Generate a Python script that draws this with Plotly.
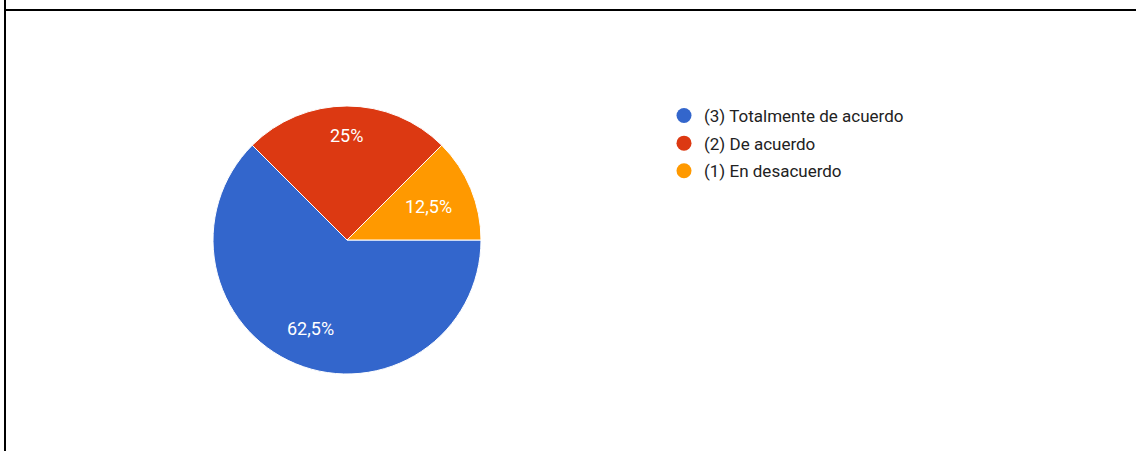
import math
import plotly.graph_objects as go

categories = ["(3) Totalmente de acuerdo", "(2) De acuerdo", "(1) En desacuerdo"]
values = [62.5, 25, 12.5]
colors = ["#3366cc", "#dc3912", "#ff9900"]

W, H = 1137, 451
cx, cy, r = 347, 240, 134
LABEL_FS = 18
FONT = "Roboto, Arial, sans-serif"

fig = go.Figure()
fig.add_trace(go.Pie(
    labels=categories, values=values, sort=False, direction="clockwise",
    rotation=90, marker=dict(colors=colors, line=dict(color="white", width=1)),
    textinfo="none", showlegend=False, hoverinfo="label+percent",
    domain=dict(x=[(cx - r) / W, (cx + r) / W], y=[(H - cy - r) / H, (H - cy + r) / H]),
))

for i, (c, col) in enumerate(zip(categories, colors)):
    fig.add_trace(go.Scatter(
        x=[None], y=[None], mode="markers", name=c, legendgroup=f"g{i}",
        marker=dict(symbol="circle", size=15, color=col), showlegend=True,
    ))

# percentage labels placed like Google Charts: along the slice bisector,
# pushed out until the label box touches ~0.84 of the radius
CHAR_W = {",": 0.196, "%": 0.732}
def text_w(s):
    return sum(CHAR_W.get(ch, 0.562) for ch in s) * LABEL_FS

total = sum(values)
annotations = []
cum = 0.0
for v in values:
    pct = v / total * 100
    txt = (f"{pct:.1f}".rstrip("0").rstrip(".")).replace(".", ",") + "%"
    theta = math.radians(0 - (cum + v / 2) / total * 360)
    cum += v
    ux, uy = math.cos(theta), math.sin(theta)
    a, b = text_w(txt) / 2, 0.711 * LABEL_FS / 2
    R = 0.84 * r
    B = a * abs(ux) + b * abs(uy)
    d = -B + math.sqrt(B * B - (a * a + b * b - R * R))
    px, py = cx + d * ux, cy - d * uy
    annotations.append(dict(
        x=px / W, y=1 - py / H, xref="paper", yref="paper", text=txt,
        showarrow=False, xanchor="center", yanchor="middle",
        font=dict(family=FONT, size=LABEL_FS, color="white"),
    ))

fig.update_layout(
    width=W, height=H, margin=dict(l=0, r=0, t=0, b=0),
    paper_bgcolor="white", plot_bgcolor="white",
    xaxis=dict(visible=False), yaxis=dict(visible=False),
    annotations=annotations,
    legend=dict(x=664 / W, y=1 - 98 / H, xanchor="left", yanchor="top",
                font=dict(family=FONT, size=17, color="#222222"),
                tracegroupgap=2.5, bgcolor="rgba(0,0,0,0)"),
    shapes=[
        dict(type="line", xref="paper", yref="paper", x0=5 / W, x1=1136 / W,
             y0=1 - 10 / H, y1=1 - 10 / H, line=dict(color="black", width=2)),
        dict(type="line", xref="paper", yref="paper", x0=5 / W, x1=5 / W,
             y0=0, y1=1, line=dict(color="black", width=2)),
    ],
)
fig.write_html("out.html")
